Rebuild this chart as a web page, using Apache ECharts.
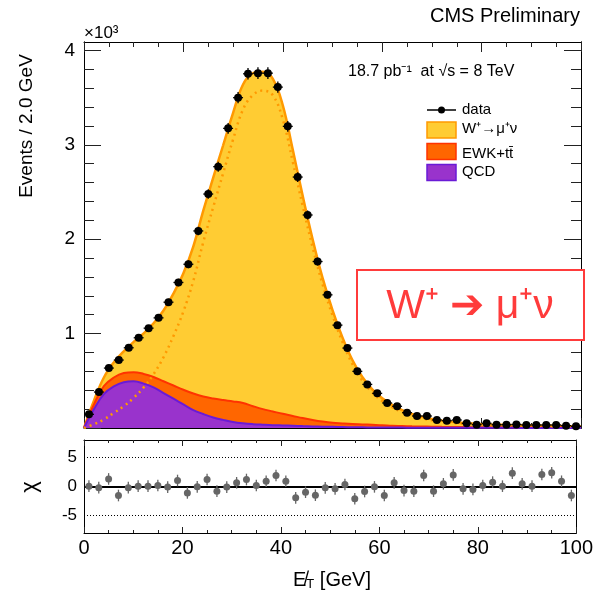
<!DOCTYPE html>
<html>
<head>
<meta charset="utf-8">
<script src="https://cdn.jsdelivr.net/npm/echarts@6/dist/echarts.min.js"></script>
<style>
  html, body { margin: 0; padding: 0; background: #fff; }
  #main { width: 596px; height: 595px; }
</style>
</head>
<body>
<div id="main"></div>
<script>
// data, 2 GeV bins
const binCenters = [1,3,5,7,9,11,13,15,17,19,21,23,25,27,29,31,33,35,37,39,41,43,45,47,49,
                    51,53,55,57,59,61,63,65,67,69,71,73,75,77,79,81,83,85,87,89,91,93,95,97,99];
const dataEvents = [145,381,635,720,850,956,1058,1167,1333,1542,1735,2088,2479,2769,3175,3500,3753,3760,3760,3612,
                    3196,2659,2257,1764,1411,1090,847,600,462,367,265,230,162,127,127,85,77,85,50,35,
                    50,35,35,38,32,32,32,32,25,18];
const chiValues = [0.06,-0.2,1.3,-1.55,-0.2,0.06,0.06,0.17,-0.1,1.03,
                   -1.1,-0.06,1.2,-0.8,-0.1,0.63,1.2,0.17,0.9,1.9,
                   0.9,-1.95,-0.98,-1.5,-0.23,-0.4,0.34,-2.1,-0.86,-0.06,
                   -1.55,0.63,-0.7,-0.8,1.9,-0.8,0.46,2.0,-0.4,-0.5,
                   0.17,0.75,0.06,2.3,0.46,0.06,2.07,2.36,0.9,-1.55];

// MC templates (contribution of each process)
const mcX = [0,2,4,6,8,10,12,14,16,18,20,22,24,26,28,30,32,34,36,38,40,42,44,46,48,50,
             52,54,56,58,60,62,64,66,68,70,72,74,76,78,80,82,84,86,88,90,92,94,96,98,100];
const qcdMC = [0,200,360,440,485,495,470,430,370,310,250,190,148,112,86,64,50,41,35,30,
               27,24,20,17,14,12,10,8,7,6,5,4,4,3,3,3,2,2,2,2,2,2,2,2,1,1,1,1,1,1,1];
const ewkMC = [0,50,85,95,98,97,103,110,125,140,155,175,185,200,210,218,215,190,165,145,
               123,104,85,68,54,43,38,34,31,28,25,20,17,15,13,11,10,9,8,7,6,6,5,5,4,4,4,3,3,3,3];
const wMC = [0,40,90,160,230,320,430,570,750,975,1235,1560,1970,2340,2700,3058,3375,3529,3575,3525,
             3270,2822,2355,1915,1522,1195,912,678,502,376,285,221,169,130,102,81,66,54,45,38,
             33,29,27,24,24,22,20,19,17,15,13];

// ticks
const yMajorTicks = [0,1000,2000,3000,4000];
const yLabelTicks = [1000,2000,3000,4000];
const yMinorTicks = [200,400,600,800,1200,1400,1600,1800,2200,2400,2600,2800,3200,3400,3600,3800];
const chiTicks = [-5,0,5];

const FONT = 'Liberation Sans';
const pairs = (xs, ys) => xs.map((x, i) => [x, ys[i]]);

// stack by hand (echarts would stack the x dimension on a value/value grid)
const ewkTop = qcdMC.map((v, i) => v + ewkMC[i]);
const mcTotal = ewkTop.map((v, i) => v + wMC[i]);

function xAxisOf(grid, pos, labels, major, minor) {
  return {
    type: 'value', gridIndex: grid, position: pos, min: 0, max: 100, interval: 20,
    axisLine: { show: true, onZero: false, lineStyle: { color: '#000', width: 1 } },
    axisTick: { show: true, inside: true, length: major, lineStyle: { color: '#222' } },
    minorTick: { show: true, splitNumber: 4, length: minor, lineStyle: { color: '#222' } },
    axisLabel: { show: labels, color: '#000', fontSize: 20, fontFamily: FONT, margin: 5 },
    splitLine: { show: false }, minorSplitLine: { show: false }
  };
}

function yMain(pos, values, len, labels) {
  return {
    type: 'value', gridIndex: 0, position: pos, min: 0, max: 4090,
    axisLine: { show: true, onZero: false, lineStyle: { color: '#000', width: 1 } },
    axisTick: { show: true, inside: true, length: len, customValues: values, lineStyle: { color: '#222' } },
    axisLabel: { show: labels, customValues: yLabelTicks, formatter: v => v / 1000,
                 color: '#000', fontSize: 19, fontFamily: FONT, margin: 9 },
    splitLine: { show: false }
  };
}

function errRender(capHalf, radius, color) {
  return function (params, api) {
    const x = api.value(0), y = api.value(1), e = api.value(2);
    const c = api.coord([x, y]);
    const lo = api.coord([x, y - e]), hi = api.coord([x, y + e]);
    const children = [
      { type: 'line', shape: { x1: lo[0], y1: lo[1], x2: hi[0], y2: hi[1] }, style: { stroke: color, lineWidth: 1.3 } }
    ];
    if (capHalf) {
      const l = api.coord([x - capHalf, y]), r = api.coord([x + capHalf, y]);
      children.push({ type: 'line', shape: { x1: l[0], y1: l[1], x2: r[0], y2: r[1] }, style: { stroke: color, lineWidth: 1.3 } });
    }
    children.push({ type: 'circle', shape: { cx: c[0], cy: c[1], r: radius }, style: { fill: color } });
    return { type: 'group', children: children };
  };
}

function area(name, ys, line, fill, lw, z) {
  return {
    name: name, type: 'line', xAxisIndex: 0, yAxisIndex: 0,
    data: pairs(mcX, ys), smooth: 0.4, showSymbol: false,
    lineStyle: { color: line, width: lw },
    areaStyle: { color: fill, opacity: 1 }, z: z
  };
}

const chart = echarts.init(document.getElementById('main'), null, { renderer: 'canvas' });

const option = {
  backgroundColor: '#fff',
  animation: false,
  grid: [
    { left: 84, top: 42, width: 497, height: 386 },
    { left: 84, top: 440, width: 497, height: 93 }
  ],
  xAxis: [
    xAxisOf(0, 'bottom', false, 10, 5),
    xAxisOf(0, 'top', false, 10, 5),
    xAxisOf(1, 'bottom', true, 6, 3),
    xAxisOf(1, 'top', false, 6, 3)
  ],
  yAxis: [
    yMain('left', yMajorTicks, 17, true),
    yMain('right', yMajorTicks, 17, false),
    yMain('left', yMinorTicks, 10, false),
    yMain('right', yMinorTicks, 10, false),
    {
      type: 'value', gridIndex: 1, position: 'left', min: -8, max: 8,
      axisLine: { show: true, onZero: false, lineStyle: { color: '#000' } },
      axisTick: { show: false },
      axisLabel: { customValues: chiTicks, color: '#000', fontSize: 17, fontFamily: FONT, margin: 7 },
      splitLine: { show: false }
    },
    {
      type: 'value', gridIndex: 1, position: 'right', min: -8, max: 8,
      axisLine: { show: true, onZero: false, lineStyle: { color: '#000' } },
      axisTick: { show: false }, axisLabel: { show: false }, splitLine: { show: false }
    }
  ],
  series: [
    area('W', mcTotal, '#ff9900', '#ffcc33', 2.5, 2),
    area('EWK+tt', ewkTop, '#ff3300', '#ff6600', 2, 3),
    area('QCD', qcdMC, '#6a1bd6', '#9933cc', 2, 4),
    {
      name: 'W only', type: 'line', xAxisIndex: 0, yAxisIndex: 0,
      data: pairs(mcX, wMC), smooth: 0.4, showSymbol: false,
      lineStyle: { color: '#ff9900', width: 2.5, type: [2, 4] }, z: 5
    },
    {
      name: 'data', type: 'custom', xAxisIndex: 0, yAxisIndex: 0,
      renderItem: errRender(1, 4, '#000'),
      data: binCenters.map((x, i) => [x, dataEvents[i], Math.sqrt(dataEvents[i])]), z: 6
    },
    {
      name: 'ref', type: 'line', xAxisIndex: 2, yAxisIndex: 4, data: [], z: 3,
      markLine: {
        silent: true, symbol: 'none', label: { show: false },
        data: [
          { yAxis: 0, lineStyle: { color: '#000', width: 2, type: 'solid' } },
          { yAxis: 5, lineStyle: { color: '#000', width: 1, type: [1, 2] } },
          { yAxis: -5, lineStyle: { color: '#000', width: 1, type: [1, 2] } }
        ]
      }
    },
    {
      name: 'chi', type: 'custom', xAxisIndex: 2, yAxisIndex: 4,
      renderItem: errRender(0, 3.5, '#666'),
      data: binCenters.map((x, i) => [x, chiValues[i], 1]), z: 5
    }
  ],
  graphic: [
    { type: 'text', x: 580, y: 16, style: { text: 'CMS Preliminary', font: '20px ' + FONT, fill: '#000', align: 'right', verticalAlign: 'middle' } },
    { type: 'text', x: 84, y: 33, style: { text: '×10³', font: '17px ' + FONT, fill: '#000', align: 'left', verticalAlign: 'middle' } },
    { type: 'text', x: 348, y: 72, style: { text: '18.7 pb⁻¹  at √s = 8 TeV', font: '16px ' + FONT, fill: '#000', align: 'left', verticalAlign: 'middle' } },
    { type: 'text', x: 27, y: 126, rotation: Math.PI / 2, style: { text: 'Events / 2.0 GeV', font: '19px ' + FONT, fill: '#000', align: 'center', verticalAlign: 'middle' } },
    { type: 'text', x: 30, y: 487, rotation: Math.PI / 2, style: { text: 'χ', font: '22px ' + FONT, fill: '#000', align: 'center', verticalAlign: 'middle' } },
    {
      type: 'text', x: 332, y: 580,
      style: {
        text: '{a|E\u0338}{b|T}{a| [GeV]}', align: 'center', verticalAlign: 'middle',
        rich: {
          a: { font: '20px ' + FONT, fill: '#000', verticalAlign: 'middle', lineHeight: 22 },
          b: { font: '13px ' + FONT, fill: '#000', verticalAlign: 'bottom', lineHeight: 12 }
        }
      }
    },
    // legend
    { type: 'line', shape: { x1: 427, y1: 110, x2: 456, y2: 110 }, style: { stroke: '#000', lineWidth: 1.5 } },
    { type: 'circle', shape: { cx: 441.5, cy: 110, r: 3.5 }, style: { fill: '#000' } },
    { type: 'text', x: 462, y: 110, style: { text: 'data', font: '15px ' + FONT, fill: '#000', verticalAlign: 'middle' } },
    { type: 'rect', shape: { x: 427, y: 122, width: 29, height: 16 }, style: { fill: '#ffcc33', stroke: '#ff9900', lineWidth: 1.5 } },
    { type: 'text', x: 462, y: 129, style: { text: 'W⁺→μ⁺ν', font: '15px ' + FONT, fill: '#000', verticalAlign: 'middle' } },
    { type: 'rect', shape: { x: 427, y: 143.5, width: 29, height: 16 }, style: { fill: '#ff6600', stroke: '#ff3300', lineWidth: 1.5 } },
    { type: 'text', x: 462, y: 154, style: { text: 'EWK+tt\u0304', font: '15px ' + FONT, fill: '#000', verticalAlign: 'middle' } },
    { type: 'rect', shape: { x: 427, y: 164.5, width: 29, height: 16 }, style: { fill: '#9933cc', stroke: '#6a1bd6', lineWidth: 1.5 } },
    { type: 'text', x: 462, y: 172, style: { text: 'QCD', font: '15px ' + FONT, fill: '#000', verticalAlign: 'middle' } },
    // highlighted channel box
    { type: 'rect', z: 10, shape: { x: 357, y: 270, width: 227, height: 70 }, style: { fill: '#fff', stroke: '#ff3b3b', lineWidth: 2 } },
    { type: 'text', z: 11, x: 470, y: 307, style: { text: 'W⁺ ➔ μ⁺ν', font: '41px ' + FONT, fill: '#ff3b3b', align: 'center', verticalAlign: 'middle' } }
  ]
};

chart.setOption(option);
</script>
</body>
</html>
